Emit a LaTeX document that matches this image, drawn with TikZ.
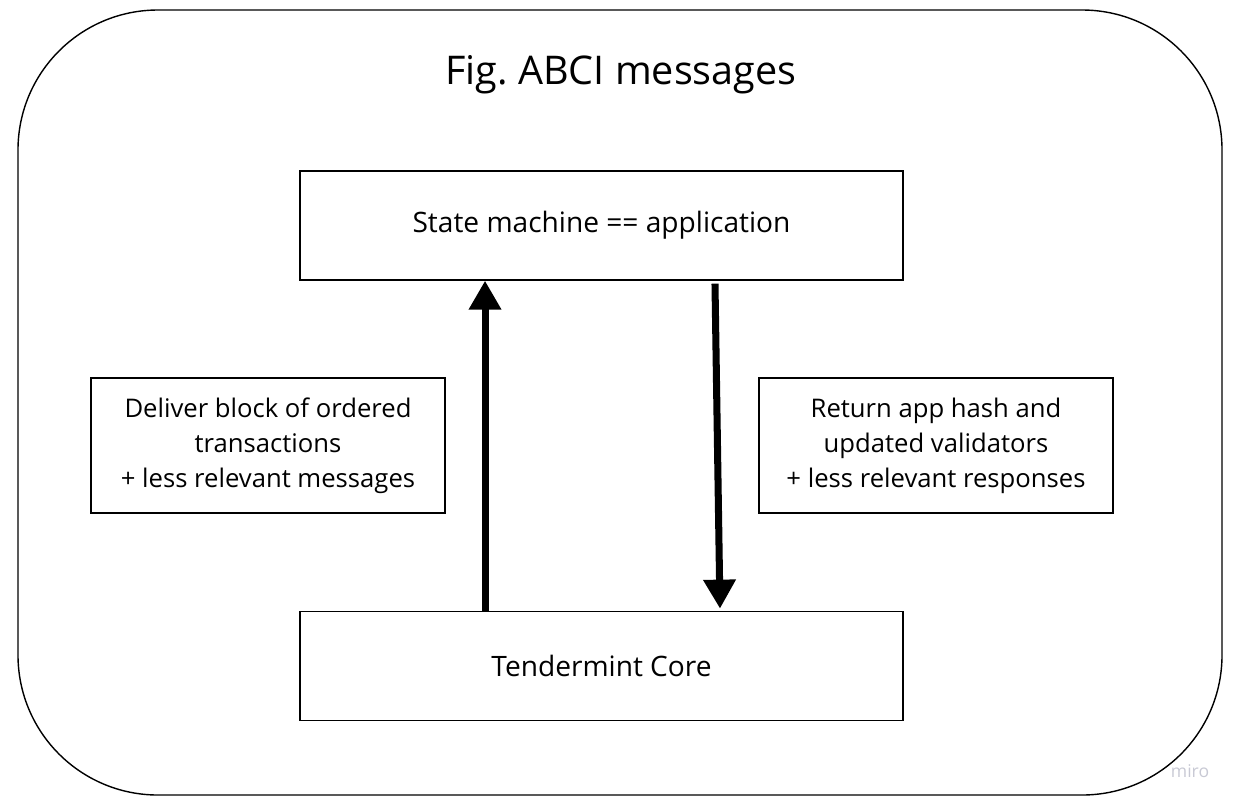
\documentclass[tikz,border=0pt]{standalone}
\usepackage{fontspec}
\setmainfont{Open Sans}
\usetikzlibrary{positioning,arrows.meta}
\definecolor{mirogray}{RGB}{200,201,212}

\begin{document}
\begin{tikzpicture}[
  x=0.02cm,
  y=-0.02cm,
  box/.style={draw, line width=0.8pt, minimum width=12.06cm, minimum height=2.18cm,
    font=\fontsize{16}{20}\selectfont},
  note/.style={draw, line width=0.8pt, minimum width=7.08cm, minimum height=2.7cm,
    align=center, font=\fontsize{14.6}{20}\selectfont},
  flow/.style={line width=4pt, -{Triangle[width=0.62cm,length=0.58cm]}},
  ]
  \useasboundingbox (0,0) rectangle (1239,806);
  \draw [line width=0.8pt, rounded corners=2.8cm] (18,10) rectangle (1222,795);
  \node [font=\fontsize{22.5}{27}\selectfont] (title) at (621,75) {Fig.\ ABCI messages};

  \node [box] (state) at (601.5,225.5) {State machine == application};
  \node [box, below=6.6cm of state] (core) {Tendermint Core};
  \node [note] (deliver) at (268,445.5)
    {Deliver block of ordered\\transactions\\+ less relevant messages};
  \node [note] (return) at (936,445.5)
    {Return app hash and\\updated validators\\+ less relevant responses};

  \draw [flow] ([xshift=-2.33cm]core.north) -- ([xshift=-2.33cm]state.south);
  \draw [flow] ([xshift=2.27cm,yshift=-0.06cm]state.south) -- ([xshift=2.37cm,yshift=0.04cm]core.north);

  \node [font=\fontsize{10}{12}\selectfont, text=mirogray] (miro) at (1190,771) {miro};
\end{tikzpicture}
\end{document}
